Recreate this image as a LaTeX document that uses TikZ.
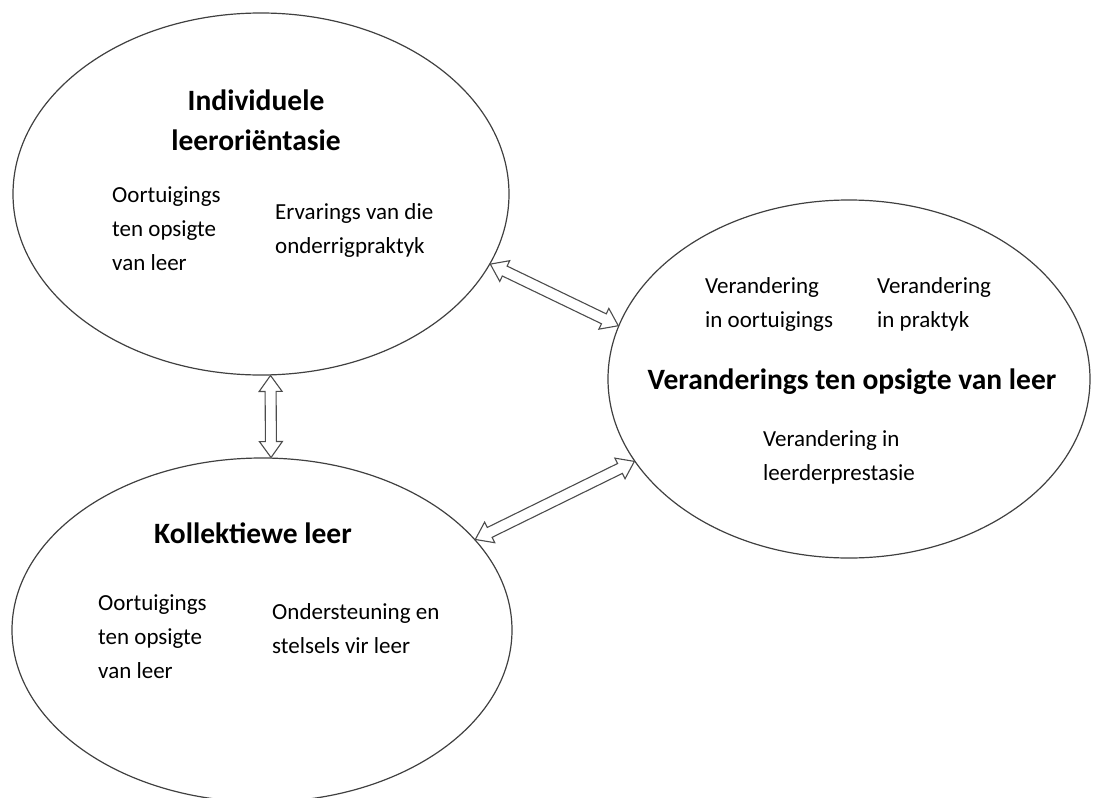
\documentclass[tikz,border=0pt]{standalone}
\usepackage{fontspec}
\setmainfont{Carlito}
\usetikzlibrary{shapes,calc}

\begin{document}
\begin{tikzpicture}[x=1pt, y=-1pt, inner sep=0pt]
    \tikzstyle{bulle}=[ellipse, draw=black!75, line width=1.2pt]
    \tikzstyle{titre}=[font=\fontsize{29.5}{40}\selectfont\bfseries, align=center]
    \tikzstyle{txt}=[font=\fontsize{23}{34}\selectfont, align=left, anchor=west]
    \tikzstyle{dbl}=[draw=black!70, fill=white, line width=1.1pt, line join=miter,
      to path={
        -- ($(\tikztostart)!16pt!(\tikztotarget)!11.5pt!90:(\tikztotarget)$)
        -- ($(\tikztostart)!16pt!(\tikztotarget)!5.5pt!90:(\tikztotarget)$)
        -- ($(\tikztotarget)!16pt!(\tikztostart)!5.5pt!-90:(\tikztostart)$)
        -- ($(\tikztotarget)!16pt!(\tikztostart)!11.5pt!-90:(\tikztostart)$)
        -- (\tikztotarget)
        -- ($(\tikztotarget)!16pt!(\tikztostart)!11.5pt!90:(\tikztostart)$)
        -- ($(\tikztotarget)!16pt!(\tikztostart)!5.5pt!90:(\tikztostart)$)
        -- ($(\tikztostart)!16pt!(\tikztotarget)!5.5pt!-90:(\tikztotarget)$)
        -- ($(\tikztostart)!16pt!(\tikztotarget)!11.5pt!-90:(\tikztotarget)$)
        -- cycle}]

    \useasboundingbox (0,0) rectangle (1093,798);

    % les bulles
    \node[bulle, minimum width=496pt, minimum height=362pt] (indiv) at (261,194) {};
    \node[bulle, minimum width=482pt, minimum height=358pt] (verand) at (849,379) {};
    \node[bulle, minimum width=500pt, minimum height=344pt] (kollek) at (262,630) {};

    \node[titre] (indivT) at (256,120) {Individuele\\leeroriëntasie};
    \node[txt] (indivA) at (112,229) {Oortuigings\\ten opsigte\\van leer};
    \node[txt] (indivB) at (275,230.5) {Ervarings van die\\onderrigpraktyk};

    \node[titre] (verandT) at (852,382) {Veranderings ten opsigte van leer};
    \node[txt] (verandA) at (705,304) {Verandering\\in oortuigings};
    \node[txt] (verandB) at (877,304) {Verandering\\in praktyk};
    \node[txt] (verandC) at (763,457.5) {Verandering in\\leerderprestasie};

    \node[titre] (kollekT) at (253,533) {Kollektiewe leer};
    \node[txt] (kollekA) at (98,636.5) {Oortuigings\\ten opsigte\\van leer};
    \node[txt] (kollekB) at (272,628.5) {Ondersteuning en\\stelsels vir leer};

    % les fleches
    \draw[dbl] (indiv.-17) to (verand.167);
    \draw[dbl] (indiv.-87.5) to (kollek.87.5);
    \draw[dbl] (verand.201) to (kollek.23);
\end{tikzpicture}
\end{document}
